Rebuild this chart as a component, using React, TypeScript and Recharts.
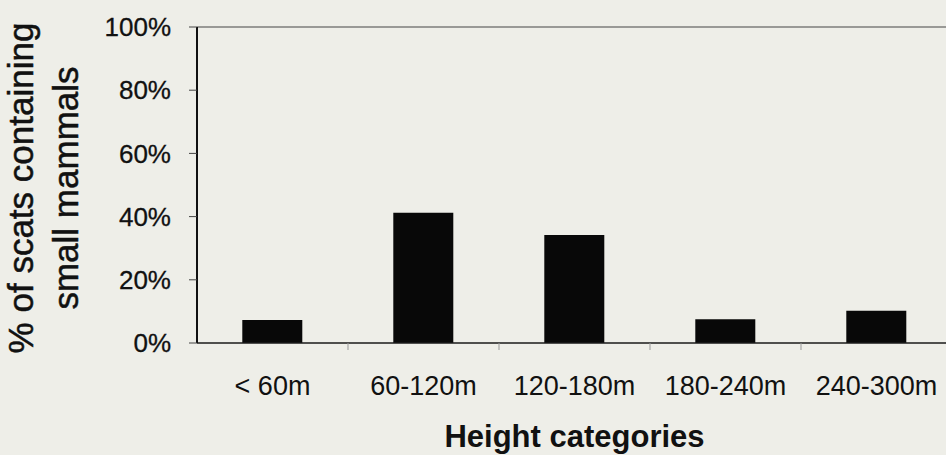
import React from 'react';
import {
  BarChart,
  Bar,
  XAxis,
  YAxis,
  ReferenceLine,
  Label
} from 'recharts';

// values
const categories = ['< 60m', '60-120m', '120-180m', '180-240m', '240-300m'];
const smallMammalPct = [7.3, 41.2, 34.2, 7.5, 10.2];
const yTicks = [0, 20, 40, 60, 80, 100];

const data = categories.map((name, i) => ({ name, value: smallMammalPct[i] }));

const FONT = '"Liberation Sans", Arial, Helvetica, sans-serif';
const BG = '#eeeee8';
const TICK_GAP = 33;

// category label plus a small tick mark on the boundary to the right of it
const XTick = (props: any) => {
  const { x, y, payload, index, visibleTicksCount } = props;
  const axisY = y - TICK_GAP;
  const bx = x + (payload.offset || 0);
  const last = visibleTicksCount ? index >= visibleTicksCount - 1 : index >= categories.length - 1;
  return (
    <g>
      {!last && <line x1={bx} x2={bx} y1={axisY} y2={axisY + 7} stroke="#999999" />}
      <text
        x={x}
        y={y}
        dy="0.71em"
        textAnchor="middle"
        fontFamily={FONT}
        fontSize={27}
        fill="#111111"
      >
        {payload.value}
      </text>
    </g>
  );
};

const YTitle = (props: any) => {
  const { viewBox } = props;
  const cy = viewBox.y + viewBox.height / 2 + 3;
  const lines = [
    { text: '% of scats containing', x: 33 },
    { text: 'small mammals', x: 78 },
  ];
  return (
    <g>
      {lines.map((l) => (
        <text
          key={l.text}
          x={l.x}
          y={cy}
          transform={`rotate(-90, ${l.x}, ${cy})`}
          textAnchor="middle"
          fontFamily={FONT}
          fontSize={35}
          fill="#111111"
          stroke="#111111"
          strokeWidth={0.5}
        >
          {l.text}
        </text>
      ))}
    </g>
  );
};

const App: React.FC = () => {
  return (
    <div
      style={{
        position: 'fixed',
        top: 0,
        left: 0,
        width: 946,
        height: 455,
        overflow: 'hidden',
        background: BG,
      }}
    >
      <BarChart
        width={960}
        height={455}
        data={data}
        margin={{ top: 27, right: 8, left: 0, bottom: 3 }}
        barCategoryGap="30%"
      >
        <XAxis
          dataKey="name"
          axisLine={{ stroke: '#1a1a1a', strokeWidth: 1.5 }}
          tickLine={false}
          tickSize={0}
          tickMargin={TICK_GAP}
          height={109}
          tick={<XTick />}
          interval={0}
        >
          <Label
            value="Height categories"
            position="insideBottom"
            offset={5}
            style={{ fontFamily: FONT, fontSize: 31, fontWeight: 700, fill: '#111111' }}
          />
        </XAxis>
        <YAxis
          domain={[0, 100]}
          ticks={yTicks}
          tickFormatter={(v: number) => `${v}%`}
          width={197}
          axisLine={{ stroke: '#111111', strokeWidth: 2 }}
          tickLine={{ stroke: '#444444' }}
          tickSize={8}
          tickMargin={18}
          tick={{ fontFamily: FONT, fontSize: 26, fill: '#111111', stroke: '#111111', strokeWidth: 0.3 }}
          interval={0}
        >
          <Label content={YTitle} />
        </YAxis>
        <ReferenceLine y={100} stroke="#444444" strokeWidth={1.2} />
        <Bar dataKey="value" fill="#080808" isAnimationActive={false} />
      </BarChart>
    </div>
  );
};

export default App;
